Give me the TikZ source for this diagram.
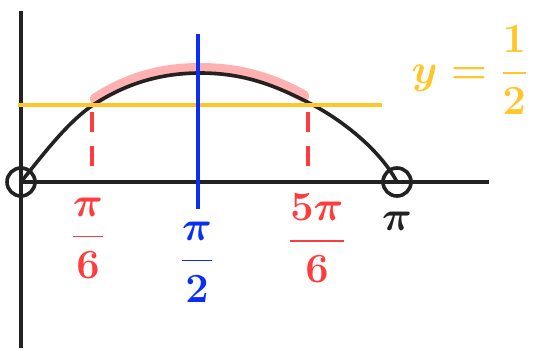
\documentclass[tikz,border=0pt]{standalone}
\usepackage{amsmath}
\usepackage{xcolor}
\usepackage{tikz}
\usetikzlibrary{positioning}
\definecolor{axisblack}{HTML}{222222}
\definecolor{sinred}{HTML}{FF3B3B}
\definecolor{sinpink}{HTML}{FFA8A8}
\definecolor{sinblue}{HTML}{0A2EF5}
\definecolor{sinyellow}{HTML}{FFC629}

\begin{document}
\begin{tikzpicture}[x=0.5pt, y=-0.5pt, every node/.style={font=\fontsize{21}{25}\selectfont\boldmath}, axis/.style={draw=axisblack, line width=1.8pt}, hole/.style={circle, draw=axisblack, line width=1.8pt, minimum size=14pt, inner sep=0pt}, guide/.style={draw=sinred, line width=1.8pt, dash pattern=on 10pt off 7pt}, lbl/.style={inner sep=1pt}]
\useasboundingbox (0,0) rectangle (535,351);
% axes
\coordinate (ytop) at (21,11);
\coordinate (ybot) at (21,348);
\coordinate (xend) at (489,182);
\node[hole] (zero) at (21,182) {};
\node[hole] (pi) at (397,182) {};
\draw[axis] (ytop) -- (ybot);
\draw[axis] (zero.center) -- (xend);
% the curve
\coordinate (left) at (93,105);
\coordinate (peak) at (200,73);
\coordinate (right) at (313,105);
% highlighted part of the curve
\draw[sinpink, line width=6pt, line cap=round, opacity=0.9] (96,99) .. controls (127,79) and (160,69) .. (200,69) .. controls (245,69) and (278,82) .. (303,96);
\draw[axisblack, line width=1.8pt, line cap=round] (zero.center) .. controls (45,152) and (68,122) .. (left) .. controls (125,84) and (160,73) .. (peak) .. controls (245,73) and (277,86) .. (right) .. controls (343,121) and (380,150) .. (pi.center);
% y = 1/2
\coordinate (ystart) at (18,105);
\coordinate (yend) at (382,105);
\draw[sinyellow, line width=1.8pt] (ystart) -- (yend);
\node[lbl, text=sinyellow, font=\fontsize{22}{26}\selectfont\boldmath] (half) at (470,70) {$y=\dfrac{1}{2}$};
% pi/2
\coordinate (btop) at (198,34);
\coordinate (bbot) at (198,209);
\draw[sinblue, line width=1.8pt] (btop) -- (bbot);
% dashed guides
\coordinate (ltop) at (92,112);
\coordinate (lbot) at (92,166);
\coordinate (rtop) at (308,112);
\coordinate (rbot) at (308,166);
\draw[guide] (ltop) -- (lbot);
\draw[guide] (rtop) -- (rbot);
% labels
\node[lbl, text=sinred] (sixth) at (88,238) {$\dfrac{\pi}{6}$};
\node[lbl, text=sinblue] (halfpi) at (197,262) {$\dfrac{\pi}{2}$};
\node[lbl, text=sinred] (fivesixth) at (317,238) {$\dfrac{5\pi}{6}$};
\node[lbl, text=axisblack, below=6pt of pi] (pilabel) {$\pi$};
\end{tikzpicture}
\end{document}
